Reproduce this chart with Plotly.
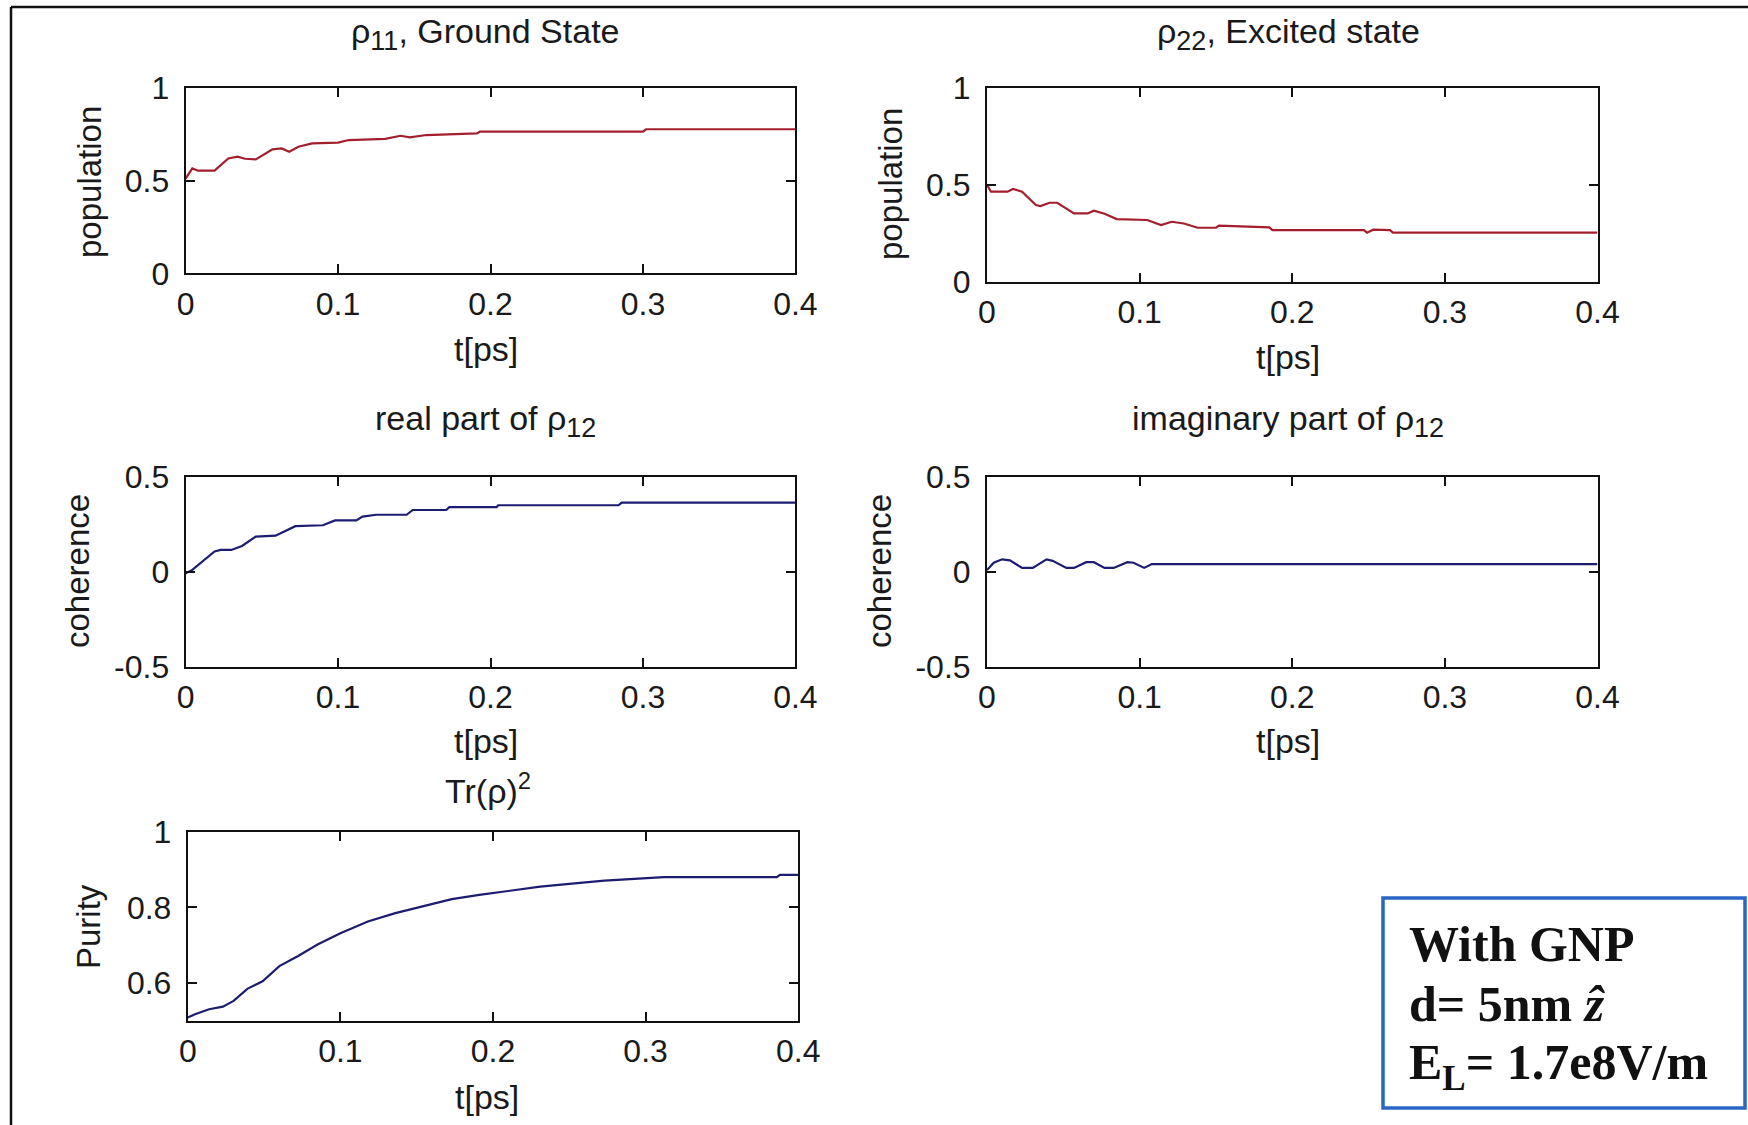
import plotly.graph_objects as go

W, H = 1748, 1125

# ---------------- data ----------------
t_p11 = [0, 0.0044, 0.008, 0.019, 0.028, 0.034, 0.039, 0.046, 0.057, 0.063, 0.068, 0.074,
         0.083, 0.1, 0.107, 0.131, 0.141, 0.147, 0.158, 0.191, 0.193, 0.3, 0.302, 0.4]
p11 = [0.51, 0.565, 0.553, 0.553, 0.619, 0.628, 0.617, 0.614, 0.668, 0.673, 0.655, 0.682,
       0.70, 0.704, 0.718, 0.724, 0.741, 0.732, 0.745, 0.754, 0.763, 0.763, 0.776, 0.776]

t_p22 = [0, 0.0026, 0.0135, 0.017, 0.023, 0.032, 0.035, 0.041, 0.046, 0.057, 0.066, 0.07,
         0.077, 0.085, 0.105, 0.114, 0.121, 0.129, 0.138, 0.15, 0.152, 0.185, 0.187, 0.247,
         0.249, 0.253, 0.264, 0.266, 0.4]
p22 = [0.50, 0.464, 0.464, 0.478, 0.464, 0.395, 0.39, 0.407, 0.407, 0.352, 0.352, 0.366,
       0.35, 0.323, 0.318, 0.292, 0.309, 0.30, 0.278, 0.278, 0.289, 0.28, 0.266, 0.266,
       0.253, 0.268, 0.266, 0.253, 0.253]

t_re = [0, 0.0044, 0.019, 0.023, 0.030, 0.037, 0.046, 0.059, 0.072, 0.09, 0.098, 0.112,
        0.116, 0.125, 0.145, 0.149, 0.171, 0.173, 0.204, 0.205, 0.284, 0.286, 0.4]
re12 = [-0.008, 0.01, 0.107, 0.115, 0.115, 0.136, 0.185, 0.19, 0.24, 0.245, 0.27, 0.27,
        0.29, 0.30, 0.30, 0.325, 0.325, 0.34, 0.34, 0.35, 0.35, 0.364, 0.364]

t_im = [0, 0.0044, 0.0099, 0.015, 0.023, 0.03, 0.039, 0.043, 0.052, 0.057, 0.065, 0.07,
        0.077, 0.083, 0.092, 0.096, 0.103, 0.108, 0.4]
im12 = [0.009, 0.047, 0.065, 0.06, 0.02, 0.02, 0.065, 0.057, 0.02, 0.02, 0.05, 0.05,
        0.02, 0.02, 0.05, 0.047, 0.02, 0.04, 0.04]

t_pur = [0, 0.0047, 0.014, 0.023, 0.030, 0.039, 0.049, 0.06, 0.072, 0.085, 0.1, 0.118,
         0.136, 0.155, 0.173, 0.191, 0.213, 0.231, 0.25, 0.273, 0.312, 0.386, 0.388, 0.4]
purity = [0.509, 0.518, 0.531, 0.538, 0.553, 0.585, 0.605, 0.645, 0.671, 0.702, 0.732, 0.763,
          0.785, 0.805, 0.822, 0.833, 0.846, 0.855, 0.862, 0.871, 0.88, 0.88, 0.886, 0.886]

x_ticks = [0, 0.1, 0.2, 0.3, 0.4]
x_ticktext = ["0", "0.1", "0.2", "0.3", "0.4"]
pop_ticks = [0, 0.5, 1]
pop_ticktext = ["0", "0.5", "1"]
coh_ticks = [-0.5, 0, 0.5]
coh_ticktext = ["-0.5", "0", "0.5"]
pur_ticks = [0.6, 0.8, 1]
pur_ticktext = ["0.6", "0.8", "1"]

SUB = '<sub><span style="font-size:27px">{}</span></sub>'
titles = ["ρ" + SUB.format("11") + ", Ground State", "ρ" + SUB.format("22") + ", Excited state",
          "real part of ρ" + SUB.format("12"), "imaginary part of ρ" + SUB.format("12"),
          "Tr(ρ)<sup>2</sup>"]
ylabels = ["population", "population", "coherence", "coherence", "Purity"]
xlabel = "t[ps]"
box_lines = ["With GNP", "d= 5nm <i>ẑ</i>", "E<sub>L</sub>= 1.7e8V/m"]

# ---------------- layout helpers (pixel boxes) ----------------
def px(x):
    return x / W

def py(y):
    return 1 - y / H

# (left, right, top, bottom) in pixels
boxes = [
    (185.6, 795.4, 87.7, 273.3),
    (987.0, 1597.5, 87.7, 281.7),
    (185.6, 795.4, 476.7, 667.0),
    (987.0, 1597.5, 476.7, 666.7),
    (187.8, 798.2, 831.7, 1021.0),
]

RED = "#a31f2e"
BLUE = "#1c1c70"
TXT = "#1a1a1a"
FONT = "Liberation Sans, Arial, sans-serif"

series = [
    (t_p11, p11, RED, [0, 1], pop_ticks, pop_ticktext),
    (t_p22, p22, RED, [0, 1], pop_ticks, pop_ticktext),
    (t_re, re12, BLUE, [-0.5, 0.5], coh_ticks, coh_ticktext),
    (t_im, im12, BLUE, [-0.5, 0.5], coh_ticks, coh_ticktext),
    (t_pur, purity, BLUE, [0.5, 1], pur_ticks, pur_ticktext),
]

fig = go.Figure()
layout = dict(
    width=W, height=H, autosize=False,
    margin=dict(l=0, r=0, t=0, b=0, pad=0, autoexpand=False),
    paper_bgcolor="white", plot_bgcolor="white", showlegend=False,
    font=dict(family=FONT, size=32, color=TXT),
)

for i, (tx, ty, col, yr, yt, ytt) in enumerate(series):
    n = "" if i == 0 else str(i + 1)
    fig.add_trace(go.Scatter(x=tx, y=ty, mode="lines", line=dict(color=col, width=2.2),
                             xaxis="x" + n, yaxis="y" + n, hoverinfo="skip"))
    l, r, tp, bt = boxes[i]
    common = dict(showgrid=False, zeroline=False, showline=True, linecolor="#111",
                  linewidth=2, mirror="ticks", ticks="inside", ticklen=9, tickwidth=2,
                  tickcolor="#111", automargin=False,
                  tickfont=dict(family=FONT, size=32, color=TXT))
    layout["xaxis" + n] = dict(common, domain=[px(l), px(r)], range=[0, 0.4],
                               tickvals=x_ticks, ticktext=x_ticktext,
                               anchor="y" + n, ticklabelstandoff=1)
    layout["yaxis" + n] = dict(common, domain=[py(bt), py(tp)], range=yr,
                               tickvals=yt, ticktext=ytt,
                               anchor="x" + n, ticklabelstandoff=8)

# ---------------- text annotations ----------------
ann = []
title_pos = [(485, 34), (1288, 34), (485, 421), (1288, 421), (488, 788)]
for (x, y), txt in zip(title_pos, titles):
    ann.append(dict(x=px(x), y=py(y), xref="paper", yref="paper", text=txt, showarrow=False,
                    xanchor="center", yanchor="middle", font=dict(family=FONT, size=34, color=TXT)))

xl_pos = [(486, 349), (1288, 357), (486, 741), (1288, 741), (487, 1097)]
for (x, y) in xl_pos:
    ann.append(dict(x=px(x), y=py(y), xref="paper", yref="paper", text=xlabel, showarrow=False,
                    xanchor="center", yanchor="middle", font=dict(family=FONT, size=34, color=TXT)))

yl_pos = [(89, 182), (890, 184), (77, 571), (879, 571), (88, 927)]
for (x, y), txt in zip(yl_pos, ylabels):
    ann.append(dict(x=px(x), y=py(y), xref="paper", yref="paper", text=txt, showarrow=False,
                    textangle=-90, xanchor="center", yanchor="middle",
                    font=dict(family=FONT, size=33, color=TXT)))

box_y = [944, 1004, 1066]
for y, txt in zip(box_y, box_lines):
    ann.append(dict(x=px(1407), y=py(y), xref="paper", yref="paper", text="<b>" + txt + "</b>",
                    showarrow=False, xanchor="left", yanchor="middle",
                    font=dict(family="Liberation Serif, Times New Roman, serif", size=50, color="#111")))
layout["annotations"] = ann

# ---------------- frame and box shapes ----------------
layout["shapes"] = [
    dict(type="line", xref="paper", yref="paper", x0=px(11), x1=1, y0=py(7), y1=py(7),
         line=dict(color="#111", width=2.5)),
    dict(type="line", xref="paper", yref="paper", x0=px(11), x1=px(11), y0=py(7), y1=0,
         line=dict(color="#111", width=2.5)),
    dict(type="rect", xref="paper", yref="paper", x0=px(1383), x1=px(1745), y0=py(1108), y1=py(898),
         line=dict(color="#2a66c4", width=3.5), fillcolor="rgba(0,0,0,0)"),
]

fig.update_layout(**layout)
fig.write_html("out.html", config={"displayModeBar": False},
               post_script="document.body.style.margin='0';document.body.style.overflow='hidden';")
